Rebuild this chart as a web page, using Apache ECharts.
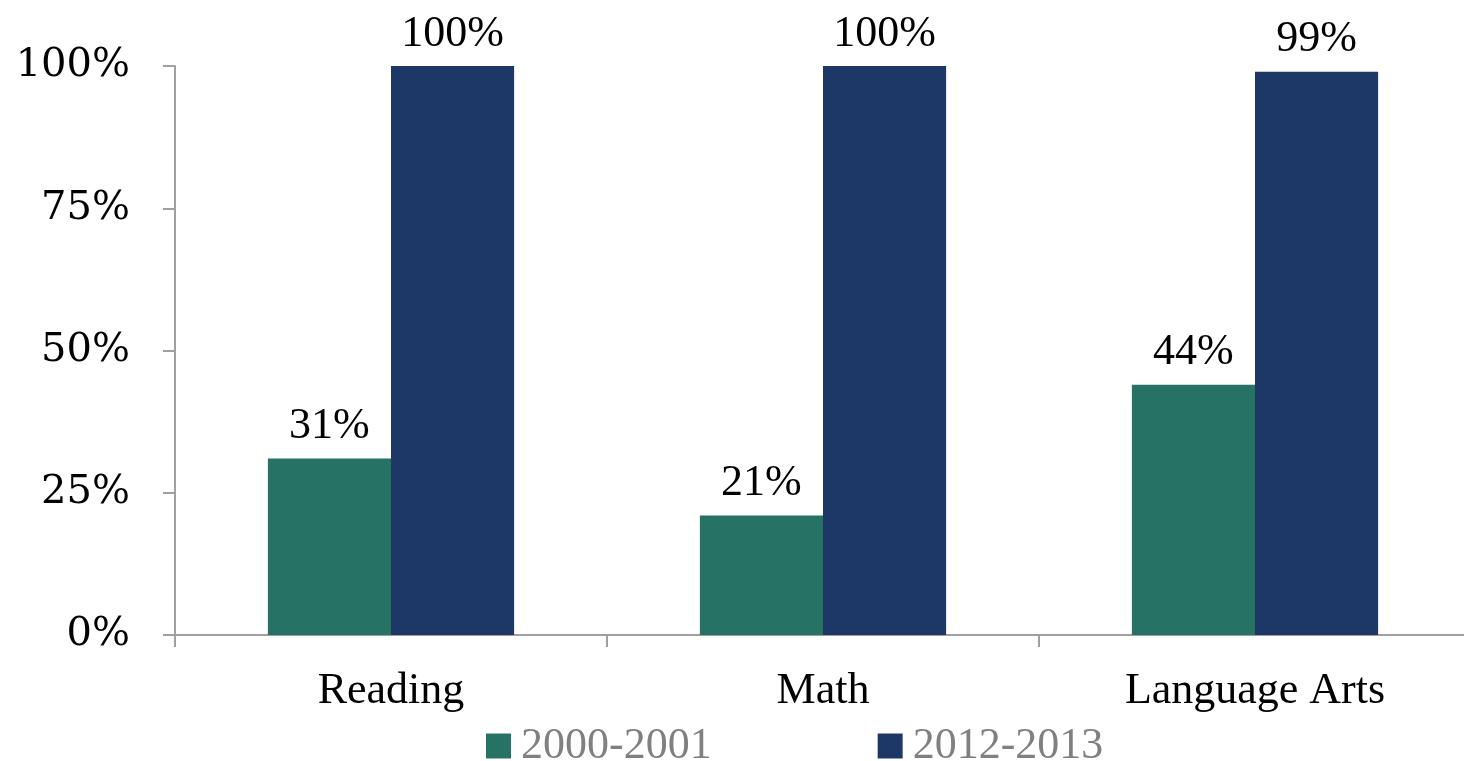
<!DOCTYPE html>
<html>
<head>
<meta charset="utf-8">
<script src="https://cdn.jsdelivr.net/npm/echarts@6/dist/echarts.min.js"></script>
<style>
  html, body { margin: 0; padding: 0; background: #fff; }
  #chart { width: 1464px; height: 761px; }
</style>
</head>
<body>
<div id="chart"></div>
<script>
const categories = ["Reading", "Math", "Language Arts"];
const seriesNames = ["2000-2001", "2012-2013"];
const values2000 = [31, 21, 44];
const values2012 = [100, 100, 99];
const colors = ["#267365", "#1d3866"];

const serif = "'Liberation Serif', 'Times New Roman', serif";

const labelStyle = {
  show: true,
  position: "top",
  distance: 10,
  color: "#000",
  fontFamily: serif,
  fontSize: 44,
  formatter: p => p.value + "%"
};

const chart = echarts.init(document.getElementById("chart"));
chart.setOption({
  animation: false,
  grid: { left: 175, right: -7, top: 66, bottom: 126, containLabel: false, outerBoundsMode: "none" },
  legend: {
    left: 481,
    top: 719,
    itemWidth: 25,
    itemHeight: 25,
    itemGap: 166,
    icon: "rect",
    textStyle: { color: "#808080", fontFamily: serif, fontSize: 44, padding: [0, 0, 0, 5] },
    data: seriesNames
  },
  xAxis: {
    type: "category",
    data: categories,
    axisLine: { lineStyle: { color: "#a0a0a0", width: 2 } },
    axisTick: { show: true, length: 12, lineStyle: { color: "#a0a0a0", width: 2 } },
    axisLabel: { color: "#000", fontFamily: serif, fontSize: 44, margin: 34 }
  },
  yAxis: {
    type: "value",
    min: 0,
    max: 100,
    interval: 25,
    splitLine: { show: false },
    axisLine: { show: true, lineStyle: { color: "#a0a0a0", width: 2 } },
    axisTick: { show: true, length: 12, lineStyle: { color: "#a0a0a0", width: 2 } },
    axisLabel: {
      color: "#000",
      fontFamily: "'DejaVu Serif', serif",
      fontSize: 40,
      margin: 45,
      formatter: v => v + "%"
    }
  },
  series: [
    {
      name: seriesNames[0],
      type: "bar",
      data: values2000,
      barGap: "0%",
      barCategoryGap: "43%",
      itemStyle: { color: colors[0] },
      label: labelStyle
    },
    {
      name: seriesNames[1],
      type: "bar",
      data: values2012,
      barGap: "0%",
      barCategoryGap: "43%",
      itemStyle: { color: colors[1] },
      label: labelStyle
    }
  ]
});
</script>
</body>
</html>
